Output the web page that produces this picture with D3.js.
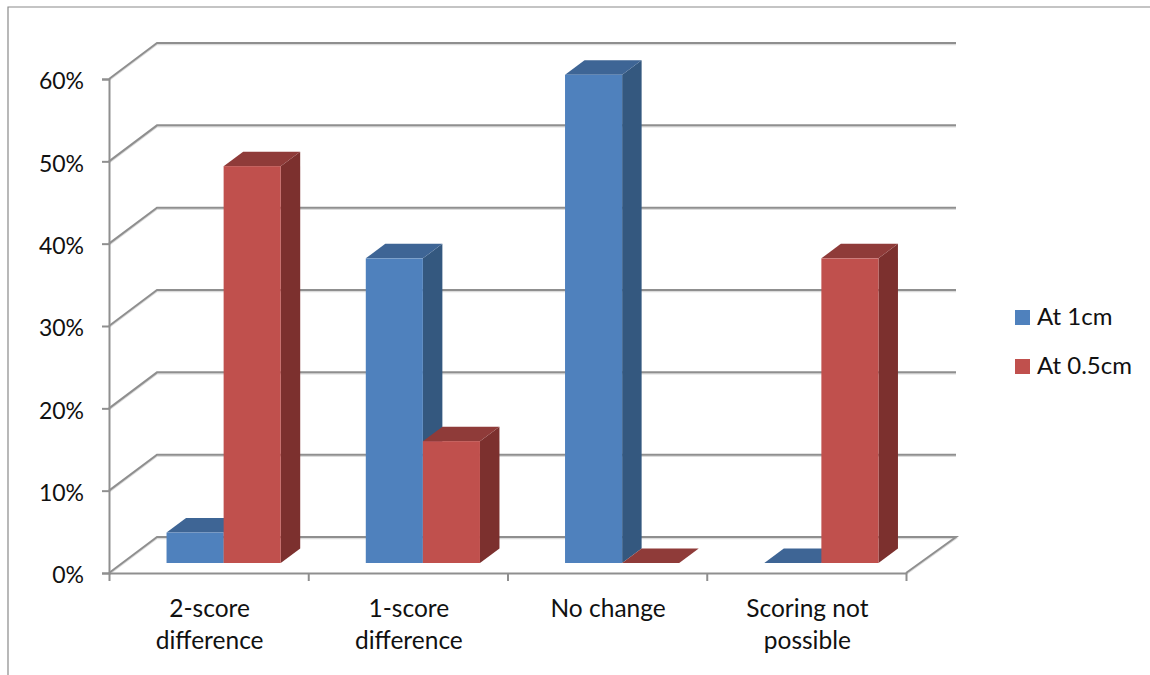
<!DOCTYPE html>
<html>
<head>
<meta charset="utf-8">
<script src="https://cdn.jsdelivr.net/npm/d3@7/dist/d3.min.js"></script>
<style>
html,body{margin:0;padding:0;background:#fff;}
svg{display:block;}
text{font-family:Lato,"Open Sans",sans-serif;fill:#111;}
</style>
</head>
<body>
<svg id="chart" width="1150" height="675"></svg>
<script>
const categories = [["2-score","difference"],["1-score","difference"],["No change"],["Scoring not","possible"]];
const seriesNames = ["At 1cm","At 0.5cm"];
const at1cm = [3.7, 37, 59.3, 0];
const at05cm = [48.2, 14.8, 0, 37];
const yTicks = [0,10,20,30,40,50,60];

const palette = {
  "At 1cm":  {front:"#4f81bd", top:"#3e6595", side:"#34587f"},
  "At 0.5cm":{front:"#c0504d", top:"#8f3b39", side:"#7c302e"}
};
const gridColor = "#8f8f8f";

const svg = d3.select("#chart");
const left = 109, right = 906, floorY = 573, topY = 79;
const wallDx = 48, wallDy = -36;      // projection of the full chart depth
const barInsetX = 15, barInsetY = -10; // where bars stand on the floor
const barDx = 19.5, barDy = -14.5;    // projection of a bar's own depth

const y = d3.scaleLinear().domain([0,60]).range([floorY, topY]);
const x = d3.scaleBand().domain(d3.range(categories.length)).range([left, right]);
const inner = d3.scaleBand().domain(seriesNames).range([0, x.bandwidth()]).paddingInner(0).paddingOuter(0.745);

// outer frame along the top and left
svg.append("path").attr("d","M8,675V7H1150").attr("fill","none").attr("stroke","#8a8a8a").attr("stroke-width",1.2);

// back-wall gridlines and side-wall diagonals
const grid = svg.append("g").attr("fill","none");
const gridPath = v => {
  const yy = y(v);
  return v === 0
    ? `M${left},${yy}L${left+wallDx},${yy+wallDy}H${right+wallDx+2}L${right},${yy}`
    : `M${left},${yy}L${left+wallDx},${yy+wallDy}H${right+wallDx+2}`;
};
grid.selectAll("path.shadow").data(yTicks).join("path").attr("class","shadow")
  .attr("d",d=>gridPath(d)).attr("transform","translate(0,1.5)").attr("stroke","#dcdcdc").attr("stroke-width",1.5);
grid.selectAll("path.line").data(yTicks).join("path").attr("class","line")
  .attr("d",d=>gridPath(d)).attr("stroke",gridColor).attr("stroke-width",2);

// value axis
const yAxis = d3.axisLeft(y).tickValues(yTicks).tickSize(7).tickPadding(18).tickFormat(d=>d+"%");
const yG = svg.append("g").attr("transform",`translate(${left},0)`).call(yAxis);
yG.selectAll("path,line").attr("stroke",gridColor).attr("stroke-width",2);
yG.selectAll("text").attr("font-size",23).attr("dy","0.43em").style("font-family","Lato");

// category axis: ticks sit on the category boundaries
const boundaries = d3.scaleLinear().domain([0,categories.length]).range([left,right]);
const xAxis = d3.axisBottom(boundaries).tickValues(d3.range(categories.length+1)).tickSize(8).tickSizeOuter(0).tickFormat("");
const xG = svg.append("g").attr("transform",`translate(0,${floorY})`).call(xAxis);
xG.selectAll("path,line").attr("stroke",gridColor).attr("stroke-width",2);

// 3D columns
const rows = categories.map((c,i)=>[
  {i, s:seriesNames[0], v:at1cm[i]},
  {i, s:seriesNames[1], v:at05cm[i]}
]).flat();
const bars = svg.append("g").selectAll("g").data(rows).join("g");
const x0 = d => x(d.i) + inner(d.s) + barInsetX;
const w = inner.bandwidth();
const base = y(0) + barInsetY;
const tp = d => y(d.v) + barInsetY;

bars.filter(d=>d.v>0).append("path")
  .attr("fill",d=>palette[d.s].side)
  .attr("d",d=>`M${x0(d)+w},${tp(d)}l${barDx},${barDy}V${base+barDy}L${x0(d)+w},${base}Z`);
bars.append("path")
  .attr("fill",d=>palette[d.s].top)
  .attr("d",d=>`M${x0(d)},${tp(d)}l${barDx},${barDy}h${w}l${-barDx},${-barDy}Z`);
bars.filter(d=>d.v>0).append("rect")
  .attr("fill",d=>palette[d.s].front)
  .attr("x",x0).attr("y",tp).attr("width",w).attr("height",d=>base-tp(d));

// category labels
const labels = svg.append("g").attr("text-anchor","middle").attr("font-size",24.5);
categories.forEach((lines,i)=>{
  lines.forEach((t,j)=>{
    labels.append("text").attr("x",x(i)+x.bandwidth()/2+1).attr("y",617+j*32).text(t);
  });
});

// legend
const legend = svg.append("g").selectAll("g").data(seriesNames).join("g")
  .attr("transform",(d,i)=>`translate(1015,${310+i*49})`);
legend.append("rect").attr("width",15).attr("height",15).attr("fill",d=>palette[d].front);
legend.append("text").attr("x",22).attr("y",15).attr("font-size",24).text(d=>d);
</script>
</body>
</html>
